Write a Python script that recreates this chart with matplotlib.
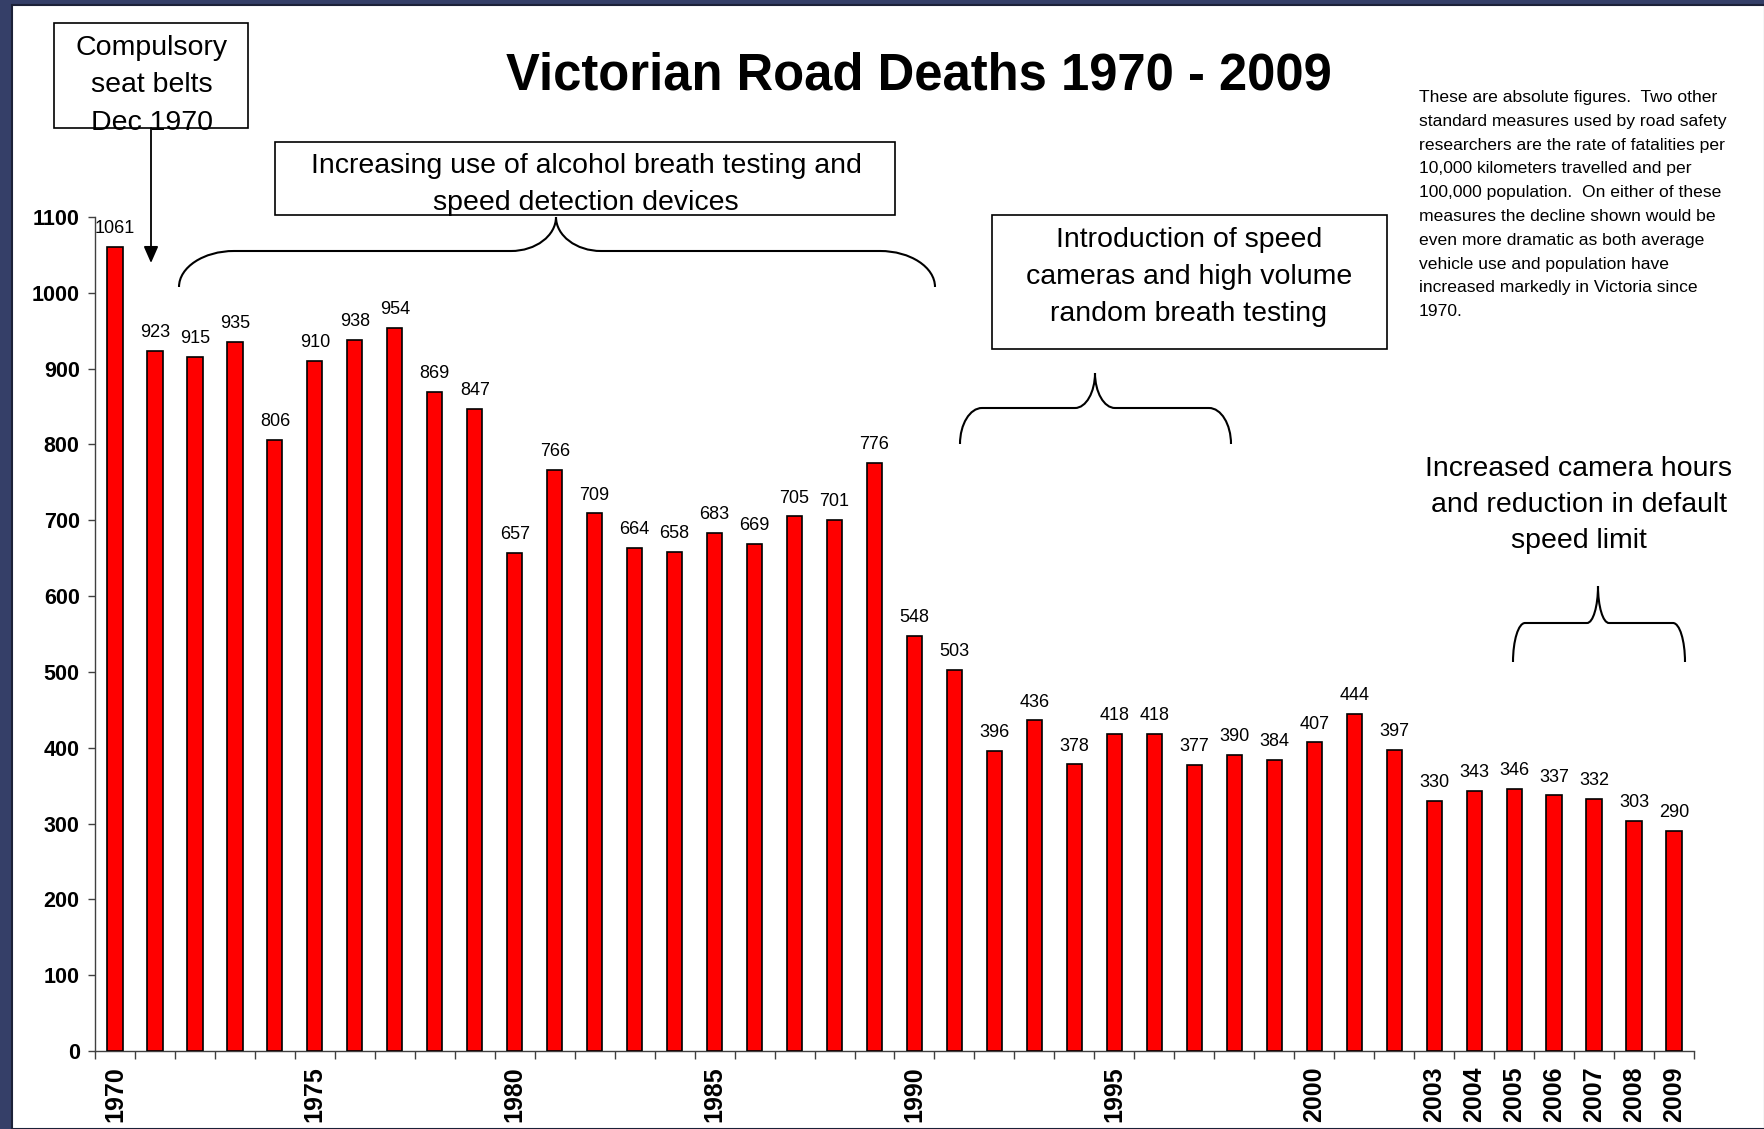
import matplotlib
matplotlib.use('Agg')
import matplotlib.pyplot as plt
import numpy as np
from matplotlib.transforms import Affine2D
from matplotlib.patches import Rectangle, PathPatch, FancyArrowPatch
from matplotlib.path import Path

plt.rcParams['font.family'] = 'Liberation Sans'

# data
years = list(range(1970, 2010))
deaths = [1061, 923, 915, 935, 806, 910, 938, 954, 869, 847,
          657, 766, 709, 664, 658, 683, 669, 705, 701, 776,
          548, 503, 396, 436, 378, 418, 418, 377, 390, 384,
          407, 444, 397, 330, 343, 346, 337, 332, 303, 290]
labelled_years = [1970, 1975, 1980, 1985, 1990, 1995, 2000,
                  2003, 2004, 2005, 2006, 2007, 2008, 2009]
y_ticks = list(range(0, 1101, 100))

seatbelt_text = ['Compulsory', 'seat belts', 'Dec 1970']
breath_text = ['Increasing use of alcohol breath testing and', 'speed detection devices']
camera_text = ['Introduction of speed', 'cameras and high volume', 'random breath testing']
limit_text = ['Increased camera hours', 'and reduction in default', 'speed limit']
note_text = ['These are absolute figures.  Two other',
             'standard measures used by road safety',
             'researchers are the rate of fatalities per',
             '10,000 kilometers travelled and per',
             '100,000 population.  On either of these',
             'measures the decline shown would be',
             'even more dramatic as both average',
             'vehicle use and population have',
             'increased markedly in Victoria since',
             '1970.']

W, H = 1765, 1129
fig = plt.figure(figsize=(W / 100, H / 100), dpi=100, facecolor='#353f68')
# pixel coords, origin top-left, for the annotation furniture
px = Affine2D().scale(1 / W, -1 / H).translate(0, 1) + fig.transFigure

fig.add_artist(Rectangle((12, 5), W - 12, H - 5, transform=px, facecolor='white',
                         edgecolor='#1c2138', linewidth=1.5, zorder=0))

ax = fig.add_axes([95 / W, 1 - 1051 / H, (1694 - 95) / W, (1051 - 217) / H])
ax.set_facecolor('none')

x = np.arange(len(years))
ax.bar(x, deaths, width=0.38, color='#ff0000', edgecolor='black', linewidth=1.2, zorder=3)
for xi, v in zip(x, deaths):
    ax.annotate(str(v), (xi, v), xytext=(0, 10), textcoords='offset points',
                ha='center', va='baseline', fontsize=13)

ax.set_xlim(-0.5, len(years) - 0.5)
ax.set_ylim(0, 1100)
for s in ['top', 'right']:
    ax.spines[s].set_visible(False)
for s in ['left', 'bottom']:
    ax.spines[s].set_color('#404040')
    ax.spines[s].set_linewidth(1.0)

ax.set_yticks(y_ticks)
ax.set_yticklabels([str(t) for t in y_ticks], fontweight='bold', fontsize=15.5)
ax.tick_params(axis='y', length=5, width=1, color='#404040', pad=6)

ax.set_xticks([years.index(y) for y in labelled_years])
ax.set_xticklabels([str(y) for y in labelled_years], rotation=90,
                   fontweight='bold', fontsize=18)
ax.tick_params(axis='x', which='major', length=0, pad=11)
ax.set_xticks(np.arange(-0.5, len(years), 1), minor=True)
ax.tick_params(axis='x', which='minor', length=6, width=1, color='#404040')

fig.text(919, 89, 'Victorian Road Deaths 1970 - 2009', transform=px, ha='center',
         va='baseline', fontsize=36.5, fontweight='bold')


def lines_at(lines, xpos, y0, dy, **kw):
    for i, t in enumerate(lines):
        fig.text(xpos, y0 + i * dy, t, transform=px, va='baseline', zorder=5, **kw)


def box(x0, y0, w, h):
    fig.add_artist(Rectangle((x0, y0), w, h, transform=px, facecolor='none',
                             edgecolor='black', linewidth=1.2, zorder=4))


def brace(x0, x1, xm, ye, yh, yp, re, rc):
    verts = [(x0, ye), (x0, ye - 0.55 * (ye - yh)), (x0 + 0.45 * re, yh), (x0 + re, yh),
             (xm - rc, yh),
             (xm - 0.45 * rc, yh), (xm, yh - 0.45 * (yh - yp)), (xm, yp),
             (xm, yh - 0.45 * (yh - yp)), (xm + 0.45 * rc, yh), (xm + rc, yh),
             (x1 - re, yh),
             (x1 - 0.45 * re, yh), (x1, ye - 0.55 * (ye - yh)), (x1, ye)]
    codes = ([Path.MOVETO] + [Path.CURVE4] * 3 + [Path.LINETO] + [Path.CURVE4] * 6
             + [Path.LINETO] + [Path.CURVE4] * 3)
    fig.add_artist(PathPatch(Path(verts, codes), transform=px, facecolor='none',
                             edgecolor='black', linewidth=1.5, zorder=4))


box(54, 23, 194, 105)
lines_at(seatbelt_text, 152, 55, 37.5, ha='center', fontsize=20.5)
fig.add_artist(FancyArrowPatch((151, 128), (151, 263), transform=px,
                               arrowstyle='-|>,head_length=0.5,head_width=0.22',
                               mutation_scale=20, linewidth=1.3, color='black',
                               shrinkA=0, shrinkB=0, zorder=4))

box(275, 142, 620, 73)
lines_at(breath_text, 586, 173, 37, ha='center', fontsize=20.5)
brace(179, 935, 556, 287, 251, 217, 55, 45)

box(992, 215, 395, 134)
lines_at(camera_text, 1189, 247, 37, ha='center', fontsize=20.5)
brace(960, 1231, 1095, 444, 408, 373, 22, 20)

lines_at(limit_text, 1579, 476, 36, ha='center', fontsize=20.5)
brace(1513, 1685, 1598, 662, 623, 586, 12, 11)

lines_at(note_text, 1419, 102, 23.8, ha='left', fontsize=12.6)

fig.savefig('out.png', dpi=100, facecolor=fig.get_facecolor())
